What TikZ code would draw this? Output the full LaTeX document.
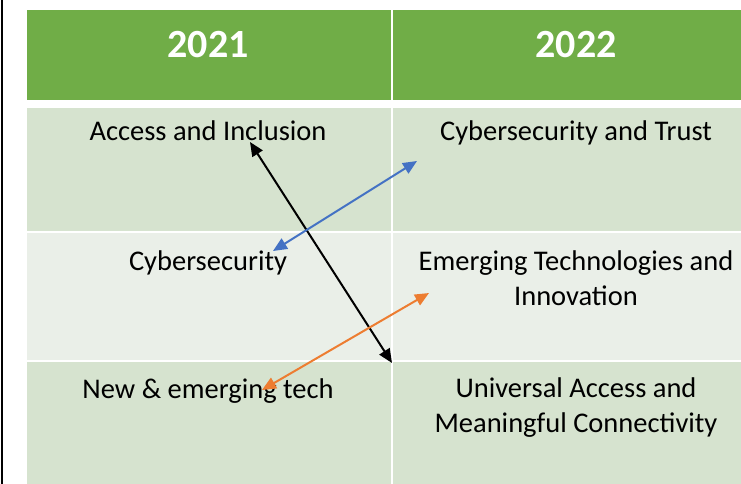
\documentclass[tikz,border=0pt]{standalone}
\usepackage{fontspec}
\setmainfont{Carlito}
\usetikzlibrary{arrows.meta}
\definecolor{hdrgreen}{RGB}{112,173,71}
\definecolor{banddark}{RGB}{214,227,207}
\definecolor{bandlight}{RGB}{234,239,232}
\definecolor{linkblue}{RGB}{68,114,196}
\definecolor{linkorange}{RGB}{237,125,49}
\begin{document}
\begin{tikzpicture}[x=1pt, y=-1pt,
  cell/.style={rectangle, anchor=north west, inner sep=0pt, outer sep=0pt},
  head/.style={anchor=base, inner sep=0pt, text=white, font=\fontsize{40}{48}\selectfont\bfseries},
  entry/.style={anchor=base, inner sep=0pt, align=center, font=\fontsize{28.5}{35}\selectfont},
  link/.style={{Triangle[length=14pt,width=12pt]}-{Triangle[length=14pt,width=12pt]}, line width=2pt}
]
  \useasboundingbox (0,0) rectangle (741,484);
  \fill[white] (0,0) rectangle (741,484);
  \draw[line width=2pt] (2,0) -- (2,484);

  % Header row
  \node[cell, fill=hdrgreen, minimum width=364pt, minimum height=90pt] (h21) at (27,10) {};
  \node[cell, fill=hdrgreen, minimum width=348pt, minimum height=90pt] (h22) at (393,10) {};
  \node[head] (y21) at (208,58) {2021};
  \node[head] (y22) at (576,58) {2022};

  % Body cells
  \node[cell, fill=banddark, minimum width=364pt, minimum height=123pt] (a1) at (27,108) {};
  \node[cell, fill=banddark, minimum width=348pt, minimum height=123pt] (b1) at (393,108) {};
  \node[cell, fill=bandlight, minimum width=364pt, minimum height=127pt] (a2) at (27,233) {};
  \node[cell, fill=bandlight, minimum width=348pt, minimum height=127pt] (b2) at (393,233) {};
  \node[cell, fill=banddark, minimum width=364pt, minimum height=122pt] (a3) at (27,362) {};
  \node[cell, fill=banddark, minimum width=348pt, minimum height=122pt] (b3) at (393,362) {};

  % Topics (two-line entries sit on their last baseline)
  \node[entry] (access) at (208,140) {Access and Inclusion};
  \node[entry] (cyber) at (208,270) {Cybersecurity};
  \node[entry] (newtech) at (208,398) {New \& emerging tech};
  \node[entry] (trust) at (576,140) {Cybersecurity and Trust};
  \node[entry] (emerging) at (576,305) {Emerging Technologies and\\Innovation};
  \node[entry] (universal) at (576,432) {Universal Access and\\Meaningful Connectivity};

  % Arrow ends
  \coordinate (accessTip) at (250,142);
  \coordinate (universalTip) at (392,363);
  \coordinate (trustTip) at (417,161);
  \coordinate (cyberTip) at (273,251);
  \coordinate (emergingTip) at (429,293);
  \coordinate (newtechTip) at (262,390);

  \draw[link, black] (accessTip) -- (universalTip);
  \draw[link, linkblue] (trustTip) -- (cyberTip);
  \draw[link, linkorange] (emergingTip) -- (newtechTip);
\end{tikzpicture}
\end{document}
